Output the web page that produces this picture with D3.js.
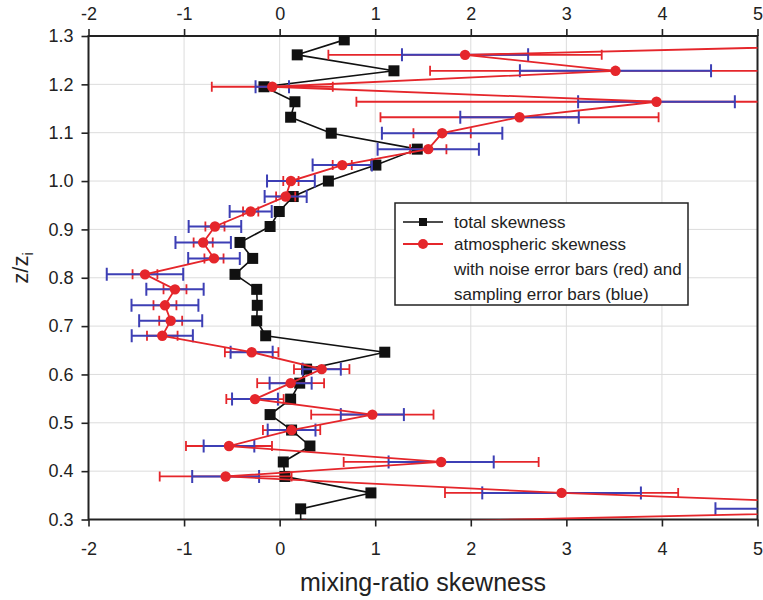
<!DOCTYPE html>
<html>
<head>
<meta charset="utf-8">
<script src="https://cdn.jsdelivr.net/npm/d3@7"></script>
<style>
  html, body { margin: 0; padding: 0; background: #fff; }
  svg { display: block; font-family: "Liberation Sans", Arial, Helvetica, sans-serif; }
</style>
</head>
<body>
<svg id="chart" width="763" height="600"></svg>
<script>
// Normalised height levels z/zi (one sample per level)
const zLevels = [0.290, 0.322, 0.355, 0.389, 0.419, 0.452, 0.485, 0.517, 0.549, 0.582,
                 0.611, 0.646, 0.680, 0.711, 0.743, 0.776, 0.807, 0.840, 0.873, 0.906,
                 0.937, 0.968, 1.000, 1.033, 1.066, 1.099, 1.132, 1.164, 1.195, 1.228,
                 1.261, 1.292];
// Total mixing-ratio skewness
const totalSkew = [0.22, 0.22, 0.955, 0.055, 0.038, 0.317, 0.125, -0.10, 0.115, 0.21,
                   0.282, 1.10, -0.146, -0.24, -0.234, -0.24, -0.467, -0.282, -0.415, -0.10,
                   -0.004, 0.142, 0.51, 1.007, 1.44, 0.54, 0.115, 0.16, -0.164, 1.196,
                   0.184, 0.676];
// Atmospheric skewness
const atmSkew = [0.26, 7.46, 2.95, -0.565, 1.69, -0.53, 0.125, 0.97, -0.258, 0.115,
                 0.44, -0.293, -1.228, -1.14, -1.20, -1.095, -1.409, -0.687, -0.80, -0.677,
                 -0.303, 0.063, 0.118, 0.655, 1.555, 1.70, 2.51, 3.943, -0.077, 3.514,
                 1.94, 8.4];
// Noise error (red) and sampling error (blue), half-widths
const noiseErr = [null, 2.4, 1.22, 0.69, 1.02, 0.45, 0.30, 0.64, 0.30, 0.35,
                  0.29, 0.28, 0.16, 0.12, 0.12, 0.12, 0.13, 0.10, 0.10, 0.10,
                  0.08, 0.10, 0.08, 0.10, 0.19, 0.30, 1.455, 3.14, 0.633, 1.94,
                  1.43, 2.5];
const samplingErr = [null, 2.9, 0.83, 0.35, 0.55, 0.265, 0.25, 0.33, 0.24, 0.22,
                     0.20, 0.22, 0.32, 0.33, 0.35, 0.30, 0.40, 0.27, 0.29, 0.275,
                     0.22, 0.22, 0.25, 0.31, 0.53, 0.63, 0.62, 0.82, 0.175, 1.0,
                     0.66, 1.2];
const xTicks = [-2, -1, 0, 1, 2, 3, 4, 5];
const yTicks = [0.3, 0.4, 0.5, 0.6, 0.7, 0.8, 0.9, 1.0, 1.1, 1.2, 1.3];
const legendLines = ["total skewness", "atmospheric skewness",
                     "with noise error bars (red) and", "sampling error bars (blue)"];

const RED = "#e5262b", BLUE = "#3d3fb5", BLACK = "#111";

const rows = zLevels.map((z, i) => ({
  z, total: totalSkew[i], atm: atmSkew[i], ne: noiseErr[i], se: samplingErr[i]
}));

const L = 88.5, R = 757.5, T = 36, B = 519.5;
const x = d3.scaleLinear().domain([-2, 5]).range([L, R]);
const y = d3.scaleLinear().domain([0.3, 1.3]).range([B, T]);

const svg = d3.select("#chart");

svg.append("defs").append("clipPath").attr("id", "plot")
  .append("rect").attr("x", L).attr("y", T).attr("width", R - L).attr("height", B - T);

// grid
const grid = svg.append("g").attr("stroke", "#dcdcdc").attr("stroke-width", 1);
grid.selectAll(".gx").data(xTicks).join("line")
  .attr("x1", d => x(d)).attr("x2", d => x(d)).attr("y1", T).attr("y2", B);
grid.selectAll(".gy").data(yTicks).join("line")
  .attr("y1", d => y(d)).attr("y2", d => y(d)).attr("x1", L).attr("x2", R);

// axes (plain hyphen for negatives)
const tickFmtX = d => String(d);
const tickFmtY = d3.format(".1f");
const axStyle = g => {
  g.select(".domain").remove();
  g.selectAll(".tick line").attr("stroke", "#222").attr("stroke-width", 1.6);
  g.selectAll(".tick text").attr("font-size", 18).attr("fill", "#222")
    .attr("font-family", "'Liberation Sans', Arial, sans-serif");
};
svg.append("g").attr("transform", `translate(0,${B})`)
  .call(d3.axisBottom(x).tickValues(xTicks).tickFormat(tickFmtX).tickSize(7).tickPadding(16))
  .call(axStyle);
svg.append("g").attr("transform", `translate(0,${T})`)
  .call(d3.axisTop(x).tickValues(xTicks).tickFormat(tickFmtX).tickSize(7).tickPadding(9))
  .call(axStyle);
svg.append("g").attr("transform", `translate(${L},0)`)
  .call(d3.axisLeft(y).tickValues(yTicks).tickFormat(tickFmtY).tickSize(7).tickPadding(8))
  .call(axStyle);
svg.append("g").attr("transform", `translate(${R},0)`)
  .call(d3.axisRight(y).tickValues(yTicks).tickFormat("").tickSize(0))
  .call(axStyle);

// frame
svg.append("rect").attr("x", L).attr("y", T).attr("width", R - L).attr("height", B - T)
  .attr("fill", "none").attr("stroke", "#222").attr("stroke-width", 2);

const plot = svg.append("g").attr("clip-path", "url(#plot)");

// total skewness profile
plot.append("path").datum(rows)
  .attr("fill", "none").attr("stroke", BLACK).attr("stroke-width", 1.6)
  .attr("d", d3.line().x(d => x(d.total)).y(d => y(d.z)));
plot.selectAll(".sq").data(rows).join("rect")
  .attr("x", d => x(d.total) - 5.5).attr("y", d => y(d.z) - 5.5)
  .attr("width", 11).attr("height", 11).attr("fill", BLACK);

// error bars
function errorBars(key, color, cap, width) {
  const withErr = rows.filter(d => d[key] != null);
  const g = plot.append("g").attr("stroke", color).attr("stroke-width", width).attr("fill", "none");
  g.selectAll("line.h").data(withErr).join("line")
    .attr("x1", d => x(d.atm - d[key])).attr("x2", d => x(d.atm + d[key]))
    .attr("y1", d => y(d.z)).attr("y2", d => y(d.z));
  g.selectAll("line.l").data(withErr).join("line")
    .attr("x1", d => x(d.atm - d[key])).attr("x2", d => x(d.atm - d[key]))
    .attr("y1", d => y(d.z) - cap / 2).attr("y2", d => y(d.z) + cap / 2);
  g.selectAll("line.r").data(withErr).join("line")
    .attr("x1", d => x(d.atm + d[key])).attr("x2", d => x(d.atm + d[key]))
    .attr("y1", d => y(d.z) - cap / 2).attr("y2", d => y(d.z) + cap / 2);
}
errorBars("ne", RED, 10, 1.8);
errorBars("se", BLUE, 13, 2);

// atmospheric skewness profile
plot.append("path").datum(rows)
  .attr("fill", "none").attr("stroke", RED).attr("stroke-width", 1.8)
  .attr("d", d3.line().x(d => x(d.atm)).y(d => y(d.z)));
plot.selectAll(".ci").data(rows).join("circle")
  .attr("cx", d => x(d.atm)).attr("cy", d => y(d.z)).attr("r", 5.2).attr("fill", RED);

// legend
const lg = svg.append("g");
lg.append("rect").attr("x", 395).attr("y", 203).attr("width", 293).attr("height", 102)
  .attr("fill", "#fff").attr("stroke", "#222").attr("stroke-width", 1.5);
const rowY = [222, 244, 269, 294];
lg.append("line").attr("x1", 403).attr("x2", 443).attr("y1", rowY[0]).attr("y2", rowY[0])
  .attr("stroke", BLACK).attr("stroke-width", 1.6);
lg.append("rect").attr("x", 419).attr("y", rowY[0] - 4).attr("width", 8).attr("height", 8).attr("fill", BLACK);
lg.append("line").attr("x1", 403).attr("x2", 443).attr("y1", rowY[1]).attr("y2", rowY[1])
  .attr("stroke", RED).attr("stroke-width", 1.8);
lg.append("circle").attr("cx", 423).attr("cy", rowY[1]).attr("r", 5).attr("fill", RED);
lg.selectAll("text").data(legendLines).join("text")
  .attr("x", 454).attr("y", (d, i) => rowY[i]).attr("dy", "0.35em")
  .attr("font-size", 17).attr("fill", "#222").text(d => d);

// axis titles
svg.append("text").attr("x", (L + R) / 2).attr("y", 591).attr("text-anchor", "middle")
  .attr("font-size", 25).attr("fill", "#222").text("mixing-ratio skewness");
const yt = svg.append("text").attr("transform", "translate(28,268) rotate(-90)")
  .attr("text-anchor", "middle").attr("font-size", 22).attr("fill", "#222");
yt.append("tspan").text("z/z");
yt.append("tspan").attr("font-size", 15).attr("dy", 5).text("i");
</script>
</body>
</html>
